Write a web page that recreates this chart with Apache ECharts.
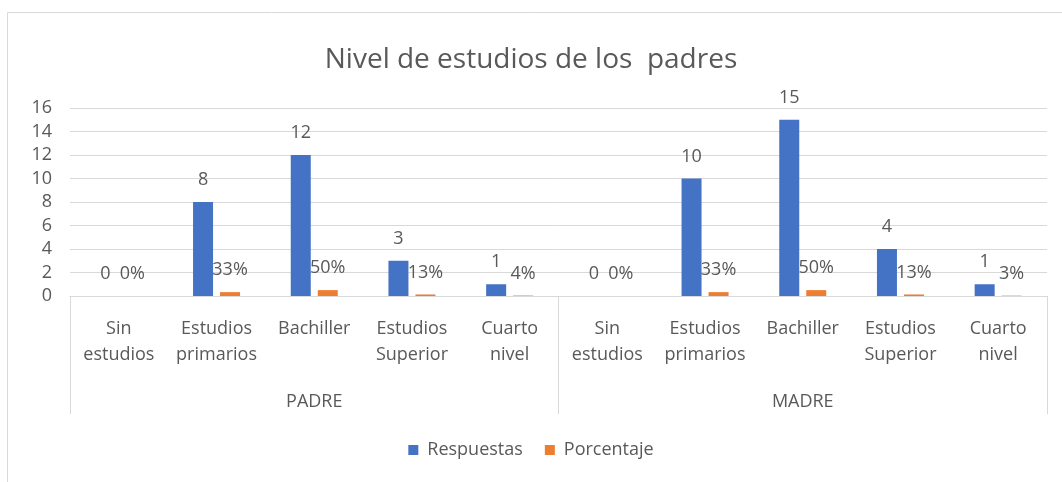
<!DOCTYPE html>
<html>
<head>
<meta charset="utf-8">
<script src="https://cdn.jsdelivr.net/npm/echarts@6/dist/echarts.min.js"></script>
<style>
html,body{margin:0;padding:0;background:#fff;}
#chart{width:1062px;height:482px;}
</style>
</head>
<body>
<div id="chart"></div>
<script>
var titleText = 'Nivel de estudios de los  padres';
var categories = ['Sin\nestudios','Estudios\nprimarios','Bachiller','Estudios\nSuperior','Cuarto\nnivel',
                  'Sin\nestudios','Estudios\nprimarios','Bachiller','Estudios\nSuperior','Cuarto\nnivel'];
var groups = ['PADRE','MADRE'];
var respuestas = [0, 8, 12, 3, 1, 0, 10, 15, 4, 1];
var porcentaje = [0, 0.33, 0.50, 0.13, 0.04, 0, 0.33, 0.50, 0.13, 0.03];
var yTicks = [0, 2, 4, 6, 8, 10, 12, 14, 16];

var FONT = 'Open Sans';
var GREY = '#595959';
var chart = echarts.init(document.getElementById('chart'));
chart.setOption({
  animation: false,
  backgroundColor: '#fff',
  graphic: [{
    type: 'rect', left: 7, top: 12, z: -1,
    shape: {width: 1070, height: 480},
    style: {fill: '#fff', stroke: '#d9d9d9', lineWidth: 1}
  }],
  title: {
    text: titleText, left: 'center', top: 41,
    textStyle: {fontFamily: FONT, fontSize: 28, fontWeight: 'normal', color: GREY}
  },
  legend: {
    bottom: 18, left: 'center', itemWidth: 10, itemHeight: 10, itemGap: 22,
    icon: 'rect',
    textStyle: {fontFamily: FONT, fontSize: 18, color: GREY, padding: [0, 0, 0, 4]},
    data: ['Respuestas', 'Porcentaje']
  },
  grid: {left: 70, right: 15, top: 108, bottom: 186, containLabel: false},
  xAxis: [{
    type: 'category', data: categories, position: 'bottom',
    axisLine: {show: true, lineStyle: {color: '#d9d9d9'}},
    axisTick: {show: false},
    axisLabel: {interval: 0, margin: 20, fontFamily: FONT, fontSize: 18, lineHeight: 26, color: GREY, verticalAlign: 'top'}
  }, {
    type: 'category', data: groups, position: 'bottom',
    axisLine: {show: false},
    axisTick: {show: true, length: 118, lineStyle: {color: '#d9d9d9'}},
    axisLabel: {margin: 95, fontFamily: FONT, fontSize: 18, lineHeight: 22, color: GREY, verticalAlign: 'top'}
  }],
  yAxis: {
    type: 'value', min: 0, max: 16, interval: 2,
    axisLine: {show: false}, axisTick: {show: false},
    axisLabel: {margin: 18, fontFamily: FONT, fontSize: 18, lineHeight: 20, color: GREY,
      formatter: function (v) { return yTicks.indexOf(v) >= 0 ? String(v) : ''; }},
    splitLine: {lineStyle: {color: '#d9d9d9'}}
  },
  series: [{
    name: 'Respuestas', type: 'bar', xAxisIndex: 0, data: respuestas,
    barWidth: 20, barGap: '35%',
    itemStyle: {color: '#4472C4'},
    label: {show: true, position: 'top', distance: 12, fontFamily: FONT, fontSize: 18, lineHeight: 20, color: GREY}
  }, {
    name: 'Porcentaje', type: 'bar', xAxisIndex: 0, data: porcentaje,
    barWidth: 20, barGap: '35%',
    itemStyle: {color: '#ED7D31'},
    label: {show: true, position: 'top', distance: 12, fontFamily: FONT, fontSize: 18, lineHeight: 20, color: GREY,
      formatter: function (p) { return Math.round(p.value * 100) + '%'; }}
  }]
});
</script>
</body>
</html>
